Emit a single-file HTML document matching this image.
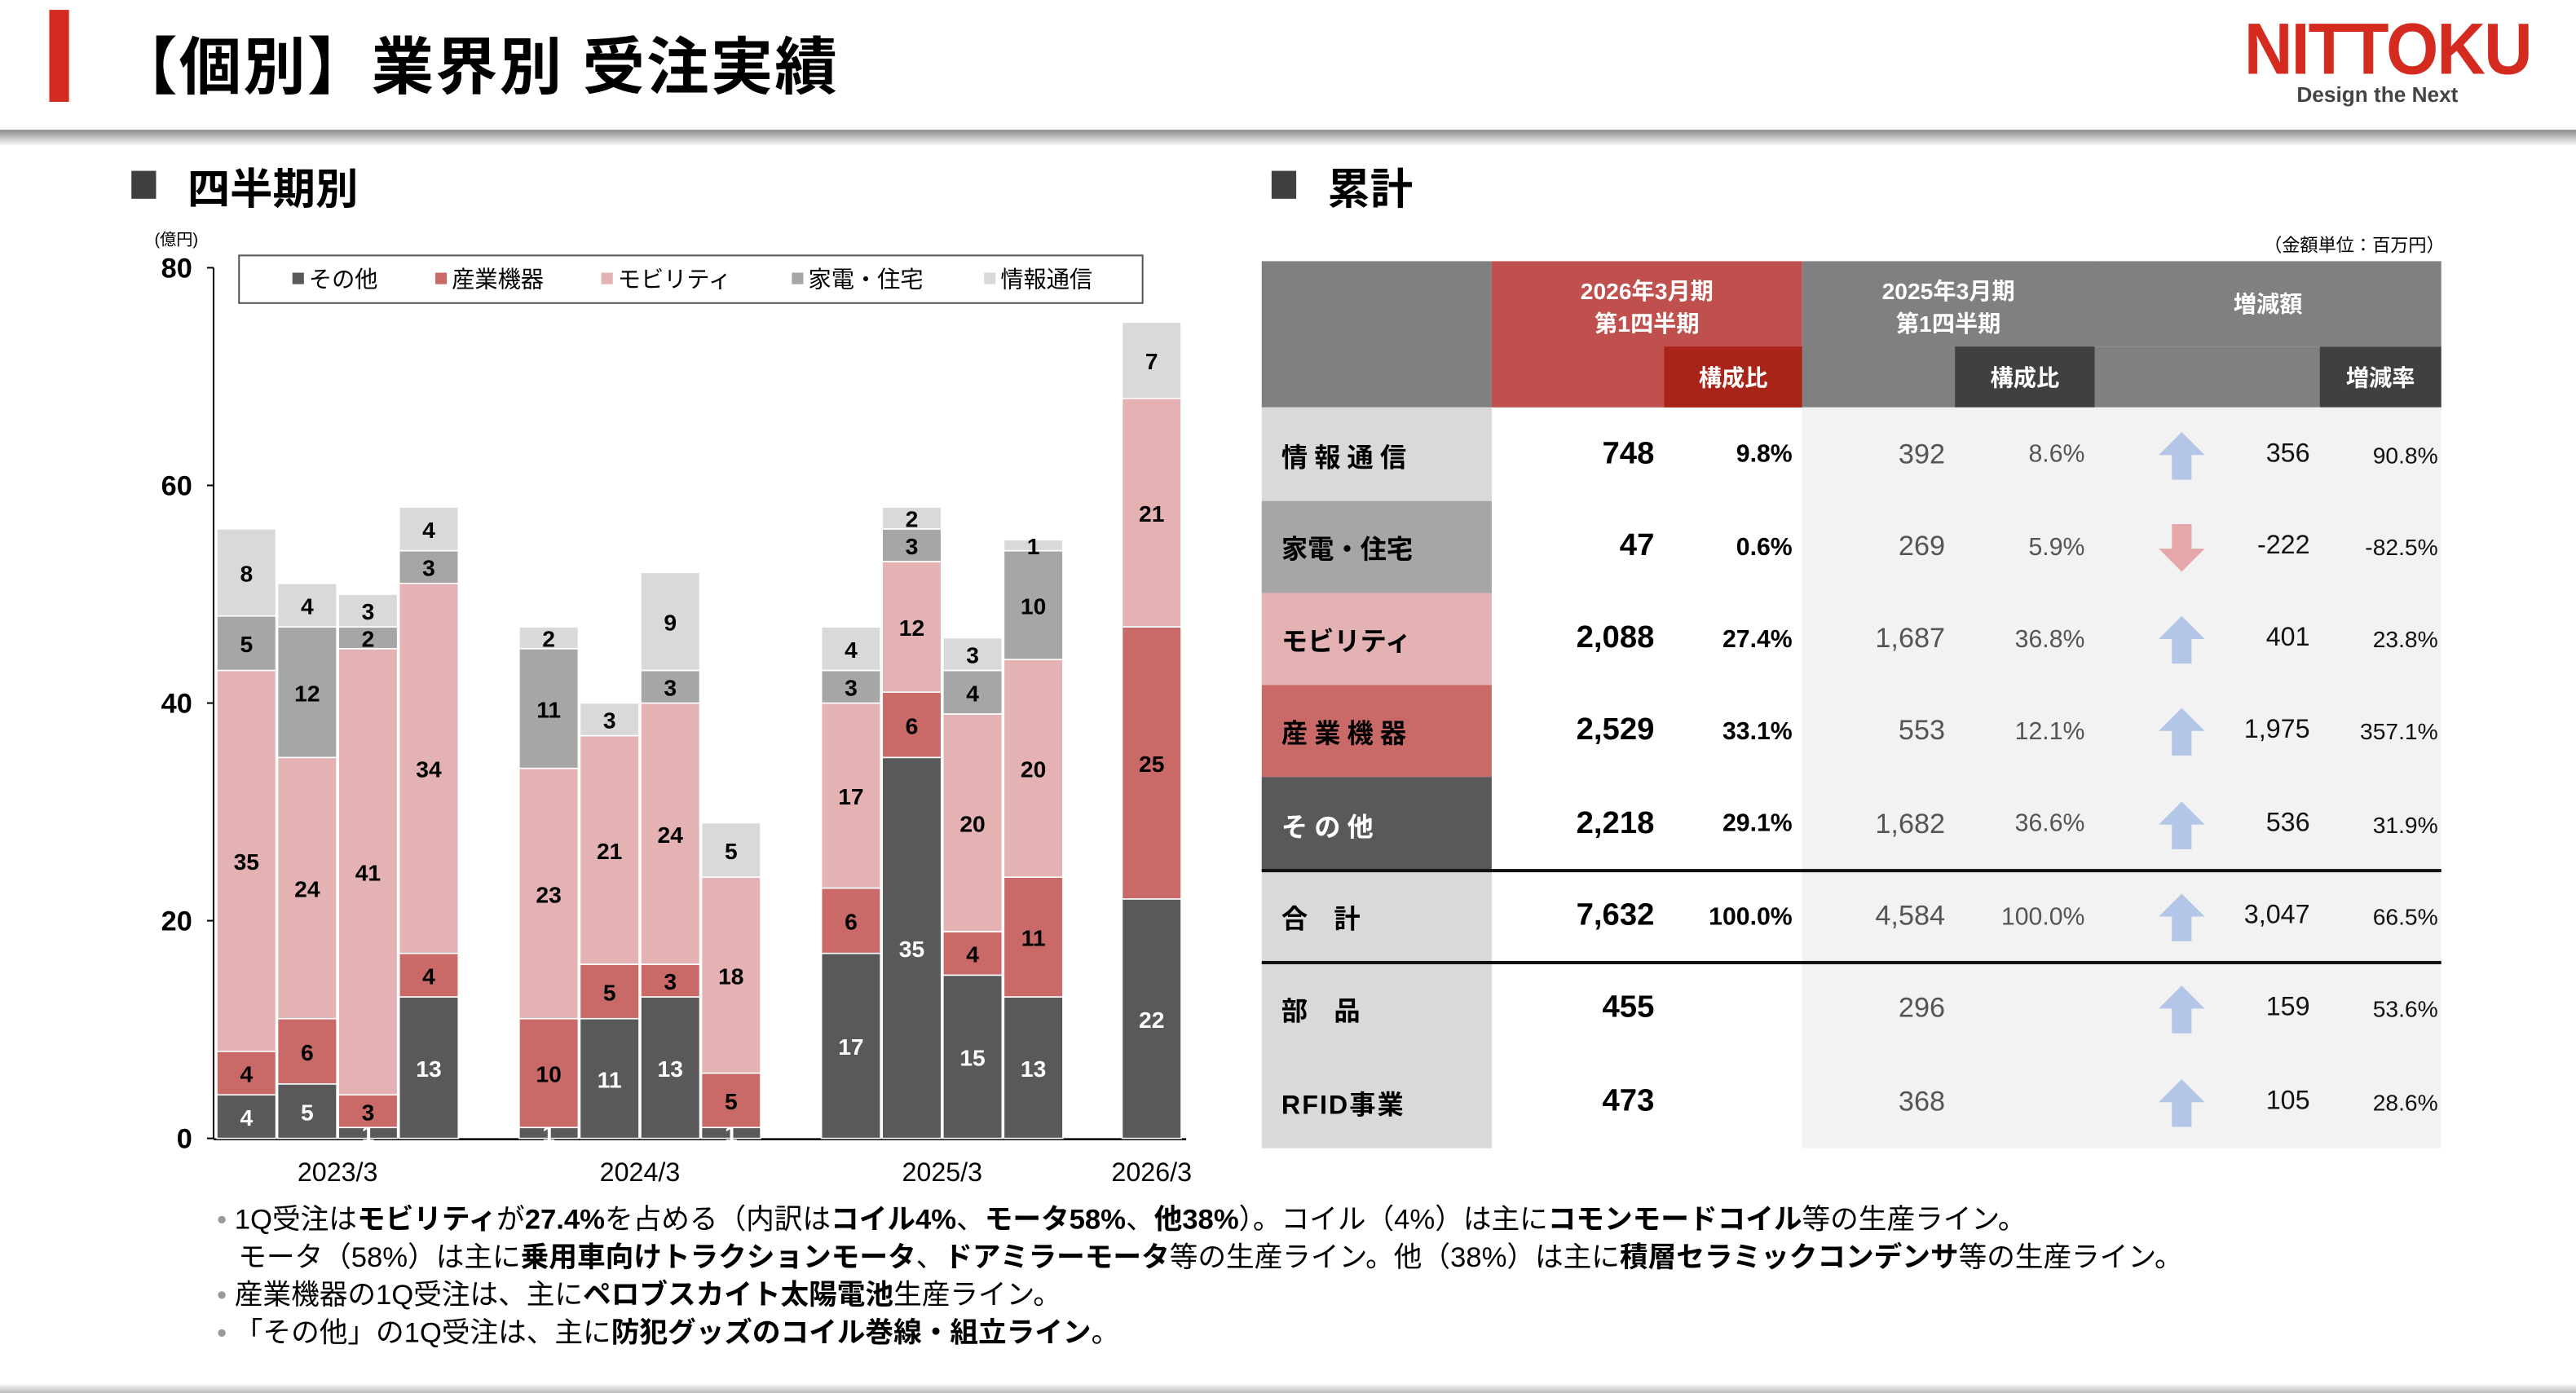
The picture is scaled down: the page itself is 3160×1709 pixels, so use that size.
<!DOCTYPE html>
<html><head><meta charset="utf-8">
<style>
html,body{margin:0;padding:0;background:#fff;width:3160px;height:1708px;overflow:hidden}
#wrap{position:absolute;left:0;top:0;width:1568px;height:848px;transform:scale(2.0153);transform-origin:0 0;font-family:"Liberation Sans","Noto Sans CJK JP",sans-serif;color:#000}
.abs{position:absolute}
.tbl div{position:absolute;box-sizing:border-box;display:flex;align-items:center}
.num{justify-content:flex-end;font-size:19px;font-weight:bold;padding-right:6px}
.num2{justify-content:flex-end;font-size:15px;font-weight:bold;padding-right:6px}
.g{font-weight:normal;color:#555}
.lbl{font-size:16px;font-weight:bold;padding-left:12px}
.hd{color:#fff;font-weight:bold;font-size:14px;justify-content:center;text-align:center;line-height:20px}
.notes{font-size:17.2px;line-height:23px;white-space:nowrap}
</style></head><body>
<div id="wrap">
  <div class="abs" style="left:30px;top:6px;width:12px;height:56px;background:#d42a20"></div>
  <div class="abs" style="left:70px;top:10px;font-size:38px;font-weight:bold;letter-spacing:1px">【個別】業界別 受注実績</div>
  <div class="abs" style="left:1366px;top:6px;width:180px;font-size:44px;font-weight:900;color:#d42a20;font-family:'Liberation Sans',sans-serif;letter-spacing:-1px;transform:scaleX(0.93);transform-origin:0 0">NITTOKU</div>
  <div class="abs" style="left:1398px;top:50px;font-size:13px;font-weight:bold;color:#444">Design the Next</div>
  <div class="abs" style="left:0;top:79px;width:1568px;height:10px;background:linear-gradient(#8a8a8a,#fff)"></div>

  <div class="abs" style="left:80px;top:104px;width:15px;height:17px;background:#404040"></div>
  <div class="abs" style="left:114px;top:95px;font-size:26px;font-weight:bold">四半期別</div>
  <div class="abs" style="left:774px;top:104px;width:15px;height:17px;background:#404040"></div>
  <div class="abs" style="left:808px;top:95px;font-size:26px;font-weight:bold">累計</div>

  <svg class="abs" style="left:0;top:0" width="760" height="730" id="chart">
  </svg>

  <div class="abs" style="left:1378px;top:141px;font-size:11px">（金額単位：百万円）</div>

  <div class="tbl abs" style="left:0;top:0">
    <div style="left:768px;top:159px;width:140px;height:89px;background:#808080"></div>
    <div class="hd" style="left:908px;top:159px;width:189px;height:89px;background:#c0504d;align-items:flex-start;padding-top:8px">2026年3月期<br>第1四半期</div>
    <div class="hd" style="left:1013px;top:211px;width:84px;height:37px;background:#a82418">構成比</div>
    <div class="hd" style="left:1097px;top:159px;width:178px;height:89px;background:#808080;align-items:flex-start;padding-top:8px">2025年3月期<br>第1四半期</div>
    <div class="hd" style="left:1190px;top:211px;width:85px;height:37px;background:#404040">構成比</div>
    <div class="hd" style="left:1275px;top:159px;width:211px;height:52px;background:#808080;padding-left:0">増減額</div>
    <div style="left:1275px;top:211px;width:137px;height:37px;background:#808080"></div>
    <div class="hd" style="left:1412px;top:211px;width:74px;height:37px;background:#404040">増減率</div>
    <div style="left:1097px;top:248px;width:389px;height:451px;background:#f2f2f2"></div>
  </div>
  <div class="tbl abs" id="rows" style="left:0;top:0"></div>
  <div class="abs" style="left:768px;top:529px;width:718px;height:2px;background:#111"></div>
  <div class="abs" style="left:768px;top:585px;width:718px;height:2px;background:#111"></div>

  <div class="abs notes" style="left:132px;top:731px">
    <div><span style="color:#999">•</span> 1Q受注は<b>モビリティ</b>が<b>27.4%</b>を占める（内訳は<b>コイル4%</b>、<b>モータ58%</b>、<b>他38%</b>）。コイル（4%）は主に<b>コモンモードコイル</b>等の生産ライン。</div>
    <div style="padding-left:13px">モータ（58%）は主に<b>乗用車向けトラクションモータ</b>、<b>ドアミラーモータ</b>等の生産ライン。他（38%）は主に<b>積層セラミックコンデンサ</b>等の生産ライン。</div>
    <div><span style="color:#999">•</span> 産業機器の1Q受注は、主に<b>ペロブスカイト太陽電池</b>生産ライン。</div>
    <div><span style="color:#999">•</span> 「その他」の1Q受注は、主に<b>防犯グッズのコイル巻線・組立ライン</b>。</div>
  </div>
  <div class="abs" style="left:0;top:842px;width:1568px;height:6px;background:linear-gradient(#fff,#bbb)"></div>
</div>
<script>
// ---- chart data ----
const periods = ["2023/3","2024/3","2025/3","2026/3"];
const quarterPeriod = [0,0,0,0,1,1,1,1,2,2,2,2,3];
const seriesNames = ["その他","産業機器","モビリティ","家電・住宅","情報通信"];
const other      = [4,5,1,13, 1,11,13,1, 17,35,15,13, 22];
const industrial = [4,6,3,4, 10,5,3,5, 6,6,4,11, 25];
const mobility   = [35,24,41,34, 23,21,24,18, 17,12,20,20, 21];
const homeHousing= [5,12,2,3, 11,0,3,0, 3,3,4,10, 0];
const infoComm   = [8,4,3,4, 2,3,9,5, 4,2,3,1, 7];
const yTicks = [0,20,40,60,80];

const NS="http://www.w3.org/2000/svg";
const svg=document.getElementById('chart');
const colors=["#595959","#c96a68","#e4b2b3","#a6a6a6","#d9d9d9"];
const labelColors=["#fff","#000","#000","#000","#000"];
const y0=693, yTop=163, yMax=80;
const y=v=>y0-(v/yMax)*(y0-yTop);
const barW=36, pitch=37, groupStart=[132,316,500,683];
function x(i){const p=quarterPeriod[i];let k=0;for(let j=0;j<i;j++)if(quarterPeriod[j]===p)k++;return groupStart[p]+k*pitch;}
function mk(t,a){const e=document.createElementNS(NS,t);for(const k in a)e.setAttribute(k,a[k]);svg.appendChild(e);return e;}
const series=[other,industrial,mobility,homeHousing,infoComm];
let e=mk('line',{x1:130,y1:y(0),x2:130,y2:y(80),stroke:'#000','stroke-width':1});


e=mk('line',{x1:130,y1:y(0)+0.5,x2:722,y2:y(0)+0.5,stroke:'#000','stroke-width':1.2});


yTicks.forEach(t=>{
  const l=mk('line',{x1:126,y1:y(t),x2:130,y2:y(t),stroke:'#000'});
  
  
  const tx=mk('text',{x:117,y:y(t)+6,'text-anchor':'end','font-size':17,'font-weight':'bold'});
  tx.textContent=t;
  
  
});
e=mk('text',{x:94,y:149,'font-size':10});e.textContent='(億円)';


other.forEach((_,i)=>{
  let cum=0;
  series.forEach((s,si)=>{
    const v=s[i]; if(v<=0)return;
    const r=mk('rect',{x:x(i),y:y(cum+v),width:barW,height:y(cum)-y(cum+v),fill:colors[si],stroke:'#fff','stroke-width':0.8});
    
    
    const t=mk('text',{x:x(i)+barW/2,y:(y(cum)+y(cum+v))/2+5.5,'text-anchor':'middle','font-size':14,'font-weight':'bold',fill:labelColors[si]});
    t.textContent=v;
    
    
    cum+=v;
  });
});
periods.forEach((p,pi)=>{
  const idx=quarterPeriod.map((q,i)=>q===pi?i:-1).filter(i=>i>=0);
  const cx=(x(idx[0])+x(idx[idx.length-1])+barW)/2;
  const t=mk('text',{x:cx,y:719,'text-anchor':'middle','font-size':16});
  t.textContent=p;
  
  
});
e=mk('rect',{x:145.5,y:155.5,width:550,height:29,fill:'#fff',stroke:'#555'});


const legX=[178,265,366,482,599];
seriesNames.forEach((n,i)=>{
  const r=mk('rect',{x:legX[i],y:166,width:7,height:7,fill:colors[i]});
  
  
  const t=mk('text',{x:legX[i]+10,y:175,'font-size':14});
  t.textContent=n;
  
  
});

// ---- table data ----
const rowLabels=["情報通信","家電・住宅","モビリティ","産業機器","その他","合　計","部　品","RFID事業"];
const cur=["748","47","2,088","2,529","2,218","7,632","455","473"];
const curRatio=["9.8%","0.6%","27.4%","33.1%","29.1%","100.0%","",""];
const prev=["392","269","1,687","553","1,682","4,584","296","368"];
const prevRatio=["8.6%","5.9%","36.8%","12.1%","36.6%","100.0%","",""];
const diff=["356","-222","401","1,975","536","3,047","159","105"];
const rate=["90.8%","-82.5%","23.8%","357.1%","31.9%","66.5%","53.6%","28.6%"];
const rowBg=["#d9d9d9","#a6a6a6","#e4b2b3","#c96a68","#595959","#d9d9d9","#d9d9d9","#d9d9d9"];
const rowSpacing=["4px","0","0","4px","4px","0","0","1px"];
const rows=document.getElementById('rows');
const rowTop=[248,305,361,417,473,530,586,642], rowH=[57,56,56,56,57,56,56,57];
function cell(cls,l,t,w,h,txt,extra){const d=document.createElement('div');d.className=cls;d.style.cssText=`left:${l}px;top:${t}px;width:${w}px;height:${h}px;${extra||''}`;d.textContent=txt;rows.appendChild(d);return d;}
rowLabels.forEach((lab,i)=>{
  const t=rowTop[i],h=rowH[i];
  let d=cell('lbl',768,t,140,h,lab,`background:${rowBg[i]};color:${i===4?'#fff':'#000'};letter-spacing:${rowSpacing[i]}`);
  
  
  d=cell('num',908,t,105,h,cur[i]);
  
  
  d=cell('num2',1013,t,84,h,curRatio[i]);
  
  
  d=cell('num g',1097,t,93,h,prev[i],'font-size:17px');
  
  
  d=cell('num2 g',1190,t,85,h,prevRatio[i]);
  
  
  d=cell('num g',1340,t,72,h,diff[i],'font-size:16px;color:#111');
  
  
  d=cell('num2 g',1412,t,74,h,rate[i],'font-size:14px;color:#111;padding-right:2px');
  
  
  const up=!diff[i].startsWith('-');
  d=document.createElement('div');
  d.style.cssText=`left:1313px;top:${t+h/2-14}px;width:30px;height:30px;`;
  d.innerHTML=up?`<svg width="30" height="30"><polygon points="15,0 29,14 21,14 21,29 9,29 9,14 1,14" fill="#b4c6e7"/></svg>`:`<svg width="30" height="30"><polygon points="9,0 21,0 21,15 29,15 15,29 1,15 9,15" fill="#e6a7ab"/></svg>`;
  
  
  rows.appendChild(d);
});
</script>
</body></html>
